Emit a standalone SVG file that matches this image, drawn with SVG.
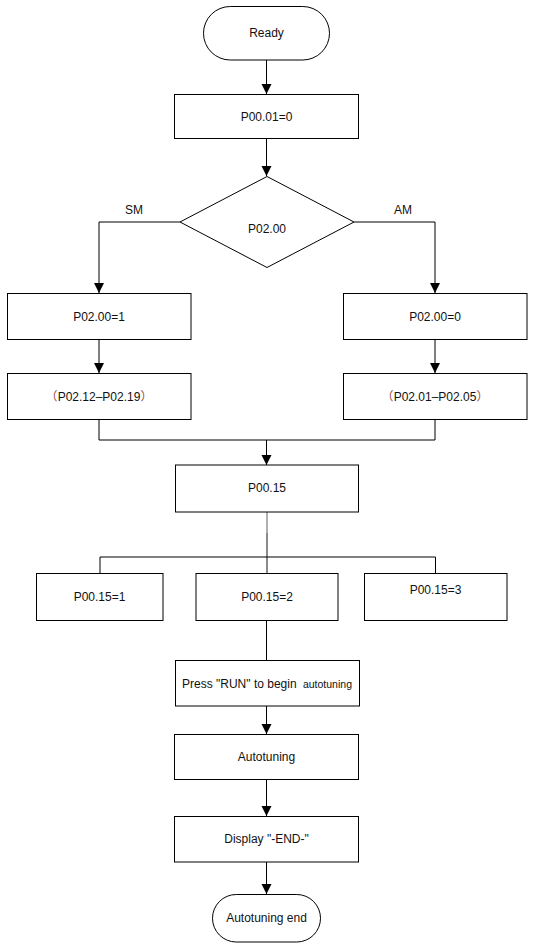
<svg xmlns="http://www.w3.org/2000/svg" width="534" height="948" viewBox="0 0 534 948">
<style>
.n{fill:#fff;stroke:#000;stroke-width:1}
.t{font-family:"Liberation Sans",Arial,sans-serif;font-size:12px;fill:#111;text-anchor:middle}
.s{font-size:10.5px}
.c{fill:none;stroke:#000;stroke-width:1}
.p{fill:#a04a40;font-family:"Noto Sans CJK SC",sans-serif}
</style>
<defs>
<marker id="b" markerWidth="10" markerHeight="11" refX="10" refY="5" orient="auto" markerUnits="userSpaceOnUse" viewBox="0 0 10 10">
<path d="M0,0 L10,5 L0,10 Z" fill="#000"/>
</marker>
</defs>
<g id="connectors">
<path class="c" d="M266.5,60 V94" marker-end="url(#b)"/>
<path class="c" d="M266.5,138 V176" marker-end="url(#b)"/>
<path class="c" d="M180,222 H99 V293" marker-end="url(#b)"/>
<path class="c" d="M354,222 H435 V293" marker-end="url(#b)"/>
<path class="c" d="M99,340 V373" marker-end="url(#b)"/>
<path class="c" d="M435,340 V373" marker-end="url(#b)"/>
<path class="c" d="M99,419 V440 H435 V419"/>
<path class="c" d="M266.5,440 V465" marker-end="url(#b)"/>
<path d="M267,512 V533" stroke="#b0b0b0" stroke-width="2" fill="none"/>
<path d="M267,533 V573" stroke="#8a8a8a" stroke-width="2" fill="none"/>
<path class="c" d="M100,573 V557 H435.5 V573"/>
<path class="c" d="M266.5,620 V660.5"/>
<path class="c" d="M266.5,706 V734" marker-end="url(#b)"/>
<path class="c" d="M266.5,779 V816" marker-end="url(#b)"/>
<path class="c" d="M266.5,862 V894" marker-end="url(#b)"/>
</g>
<g id="n-ready"><rect class="n" x="203.5" y="6.5" width="126" height="53.5" rx="26.75"/><text class="t" x="266.5" y="37">Ready</text></g>
<g id="n-p0001"><rect class="n" x="174.5" y="94.5" width="184" height="44"/><text class="t" x="266.5" y="120.5">P00.01=0</text></g>
<g id="n-p0200"><polygon class="n" points="267,176.5 354,222 267,267.5 180,222"/><text class="t" x="267" y="233">P02.00</text></g>
<text class="t" x="134" y="214">SM</text>
<text class="t" x="403" y="214">AM</text>
<g id="n-sm1"><rect class="n" x="7.5" y="293.5" width="183.5" height="46"/><text class="t" x="99" y="320.5">P02.00=1</text></g>
<g id="n-am0"><rect class="n" x="343.5" y="293.5" width="183.5" height="46"/><text class="t" x="435" y="320.5">P02.00=0</text></g>
<g id="n-sm2"><rect class="n" x="7.5" y="373.5" width="183.5" height="46"/><text class="t" x="99" y="400.5"><tspan class="p">（</tspan>P02.12–P02.19<tspan class="p">）</tspan></text></g>
<g id="n-am2"><rect class="n" x="343.5" y="373.5" width="183.5" height="46"/><text class="t" x="435" y="400.5"><tspan class="p">（</tspan>P02.01–P02.05<tspan class="p">）</tspan></text></g>
<g id="n-p0015"><rect class="n" x="175.5" y="465" width="183" height="47"/><text class="t" x="267" y="492">P00.15</text></g>
<g id="n-p00151"><rect class="n" x="36.5" y="573.5" width="126.5" height="47"/><text class="t" x="99.5" y="600.5">P00.15=1</text></g>
<g id="n-p00152"><rect class="n" x="196" y="573.5" width="142" height="47"/><text class="t" x="267" y="600.5">P00.15=2</text></g>
<g id="n-p00153"><rect class="n" x="364.5" y="573.5" width="142.5" height="47"/><text class="t" x="435.5" y="593.5">P00.15=3</text></g>
<g id="n-press"><rect class="n" x="175.5" y="660.5" width="184" height="45.5"/><text class="t" x="267" y="688">Press "RUN" to begin <tspan class="s" dx="3">autotuning</tspan></text></g>
<g id="n-auto"><rect class="n" x="174.5" y="734.5" width="184" height="45"/><text class="t" x="266.5" y="761">Autotuning</text></g>
<g id="n-disp"><rect class="n" x="174.5" y="816.5" width="184" height="45.5"/><text class="t" x="266.5" y="843">Display "-END-"</text></g>
<g id="n-end"><rect class="n" x="212.5" y="894.5" width="108" height="47.5" rx="23.75"/><text class="t" x="266.5" y="922">Autotuning end</text></g>
</svg>
